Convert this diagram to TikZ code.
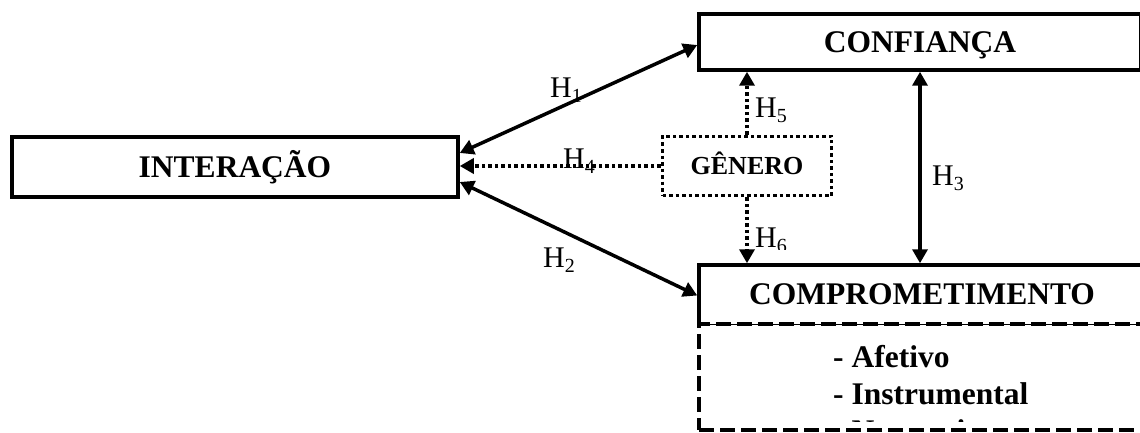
\documentclass[tikz,border=0pt]{standalone}
\usepackage{fontspec}
\setmainfont{Liberation Serif}
\usetikzlibrary{arrows.meta,calc}
% lowered, smaller index after an "H"
\newcommand\hsub[1]{\raisebox{-5pt}{\fontsize{20}{20}\selectfont #1}}
\tikzset{
  box/.style={draw, rectangle, line width=3.5pt, inner sep=0pt,
    text height=20.8pt, text depth=0pt,
    font=\fontsize{31.5}{36}\selectfont\bfseries},
  dotbox/.style={box, dash pattern=on 3.5pt off 3pt, fill=white,
    font=\fontsize{26}{30}\selectfont\bfseries, text height=17.2pt},
  dimbox/.style={draw, rectangle, line width=3.5pt,
    dash pattern=on 15pt off 6pt, inner sep=0pt},
  item/.style={anchor=base west, inner sep=0pt,
    font=\fontsize{31.5}{36}\selectfont\bfseries},
  link/.style={line width=3.5pt},
  dotlink/.style={line width=3.5pt, dash pattern=on 3.5pt off 3pt},
  hlabel/.style={anchor=base west, inner sep=0pt,
    font=\fontsize{30}{34}\selectfont},
}
\begin{document}
\begin{tikzpicture}[x=1pt, y=-1pt, >={Triangle[length=14pt,width=15pt]}]
\clip (0,0) rectangle (1140,433);

% constructs
\node[box, minimum width=446pt, minimum height=60pt] (inter) at (235,167) {INTERAÇÃO};
\node[box, minimum width=442pt, minimum height=56pt] (conf) at (920,42) {CONFIANÇA};
\node[box, minimum width=446pt, minimum height=59pt] (comp) at (922,294.5) {COMPROMETIMENTO};

% the lower edge of the title box gives way to the dashed list box
\draw[white, line width=3.5pt] ([yshift=1.75pt]comp.south west) -- ([yshift=1.75pt]comp.south east);
\node[dimbox, minimum width=446pt, minimum height=106pt] (dims) at (922,377) {};
\draw[line width=0.7pt] ([yshift=-1.75pt]dims.north west) -- ([yshift=-1.75pt]dims.north east);

% dimensions of commitment
\node[item] (afet) at (833,367) {- Afetivo};
\node[item] (instr) at (833,404) {- Instrumental};
\begin{scope}
  \clip (700,400) rectangle (1140,421);
  \node[item] (norm) at (833,441) {- Normativo};
\end{scope}

% moderator
\node[dotbox, minimum width=169pt, minimum height=59pt] (gen) at (747,166) {GÊNERO};

% hypotheses
\draw[link, <->] ($(inter.east)+(0,-14)$) -- ($(conf.west)+(0,3)$);
\draw[link, <->] ($(inter.east)+(0,15)$) -- ($(comp.west)+(0,1)$);
\draw[link, <->] (conf.south) -- (conf.south |- comp.north);
\draw[dotlink, ->] (gen.west) -- (gen.west -| inter.east);
\draw[dotlink, ->] (gen.north) -- (gen.north |- conf.south);
\draw[dotlink, ->] (gen.south) -- (gen.south |- comp.north);

% hypothesis labels
\node[hlabel] (h1) at (550,98) {H\hsub{1}};
\node[hlabel] (h2) at (543,267) {H\hsub{2}};
\node[hlabel] (h3) at (932,185) {H\hsub{3}};
\node[hlabel] (h4) at (563,168) {H\hsub{4}};
\begin{scope}
  \clip (740,80) rectangle (820,123);
  \node[hlabel] (h5) at (755,118) {H\hsub{5}};
\end{scope}
\begin{scope}
  \clip (740,210) rectangle (820,249);
  \node[hlabel] (h6) at (755,247) {H\hsub{6}};
\end{scope}
\end{tikzpicture}
\end{document}
